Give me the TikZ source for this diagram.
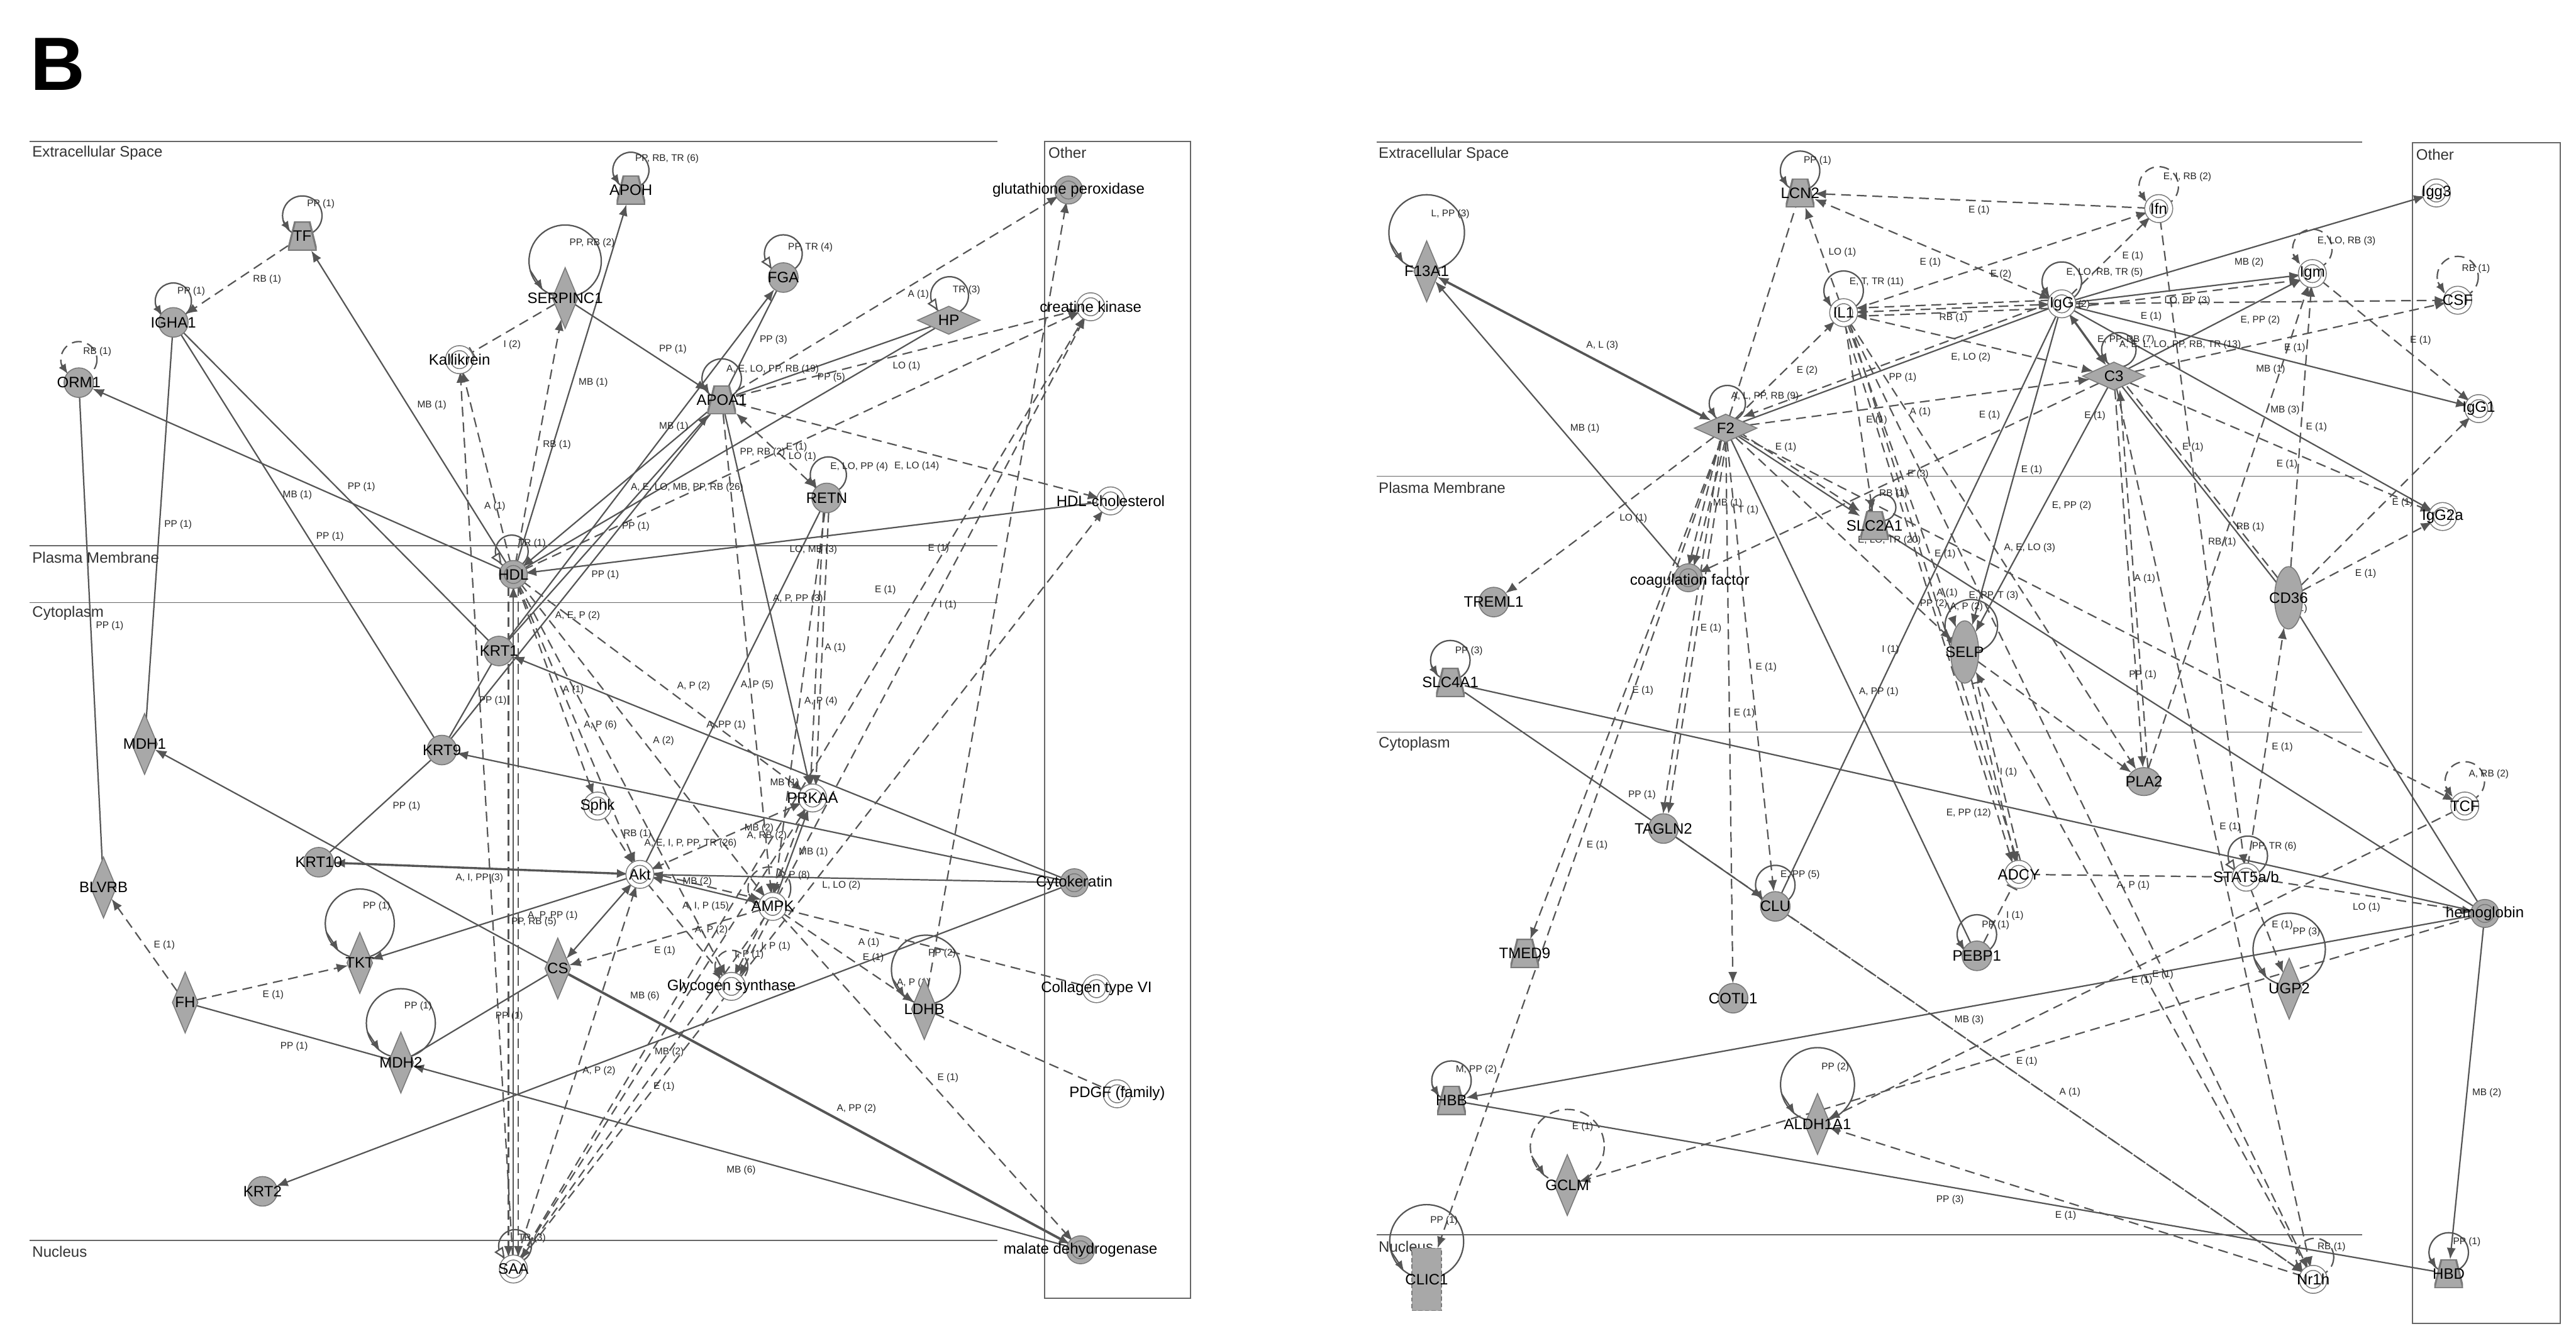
\documentclass[tikz,border=0pt]{standalone}
\usepackage{fontspec}
\setmainfont{Liberation Sans}
\usetikzlibrary{shapes.geometric,arrows.meta,calc}
\definecolor{ng}{HTML}{A8A8A8}
\definecolor{nb}{HTML}{7A7A7A}
\definecolor{ec}{HTML}{555555}
\pgfdeclarelayer{bg}
\pgfdeclarelayer{edges}
\pgfdeclarelayer{elabels}
\pgfsetlayers{bg,edges,elabels,main}
\newcounter{lc}
\tikzset{
  base/.style={draw=nb, line width=0.6pt, inner sep=0pt, outer sep=0pt},
  gc/.style={base, circle, fill=ng, minimum size=18pt},
  wc/.style={base, circle, fill=white, double=white, double distance=2.4pt, minimum size=14pt},
  gdc/.style={base, circle, fill=ng, double=ng, double distance=2.4pt, minimum size=14pt},
  tdia/.style={base, diamond, fill=ng, minimum width=15.5pt, minimum height=37pt},
  wdia/.style={base, diamond, fill=ng, minimum width=38pt, minimum height=17pt},
  trap/.style={inner sep=0pt, outer sep=0pt, rectangle, minimum width=17.5pt, minimum height=17.5pt,
    path picture={\fill[ng,draw=nb,line width=1.2pt]
      (path picture bounding box.south west) -- (path picture bounding box.south east) --
      ([xshift=-4.3pt]path picture bounding box.north east) -- ([xshift=4.3pt]path picture bounding box.north west) -- cycle;}},
  tell/.style={base, ellipse, fill=ng, minimum width=17pt, minimum height=38pt},
  rell/.style={base, ellipse, fill=ng, minimum width=20pt, minimum height=17pt},
  drect/.style={base, rectangle, fill=ng, dash pattern=on 2.5pt off 1.5pt, minimum width=18pt, minimum height=38pt},
  nl/.style={font=\fontsize{9.2}{9.2}\selectfont, inner sep=0pt, text=black},
  el/.style={font=\fontsize{5.9}{5.9}\selectfont, inner sep=0pt, text=black!85},
  comp/.style={font=\fontsize{9.2}{9.2}\selectfont, inner sep=0pt, anchor=west, text=black!80},
  e/.style={draw=ec, line width=0.85pt},
  d/.style={draw=ec, line width=0.85pt, dash pattern=on 6pt off 3.5pt},
  a/.style={-{Latex[length=7pt,width=5.5pt]}},
  ab/.style={{Latex[length=7pt,width=5.5pt]}-{Latex[length=7pt,width=5.5pt]}},
  ib/.style={-{Bar[width=7pt]}, shorten >=1.5pt},
  cl/.style={draw=black!60, line width=0.7pt},
}
\newcommand{\gene}[4]{\node[#1] (#2) at (#3) {}; \node[nl] (#2-t) at (#2.center) {#4};}
\newcommand{\el}[2]{\stepcounter{lc}\node[el] (el\arabic{lc}) at (#1) {#2};}
% loop: #1 circle style, #2 node, #3 dx, #4 dy, #5 radius
\newcommand{\sloop}[5][e]{%
  \draw[#1] ($(#2)+(#3,#4)$) circle (#5);
  \draw[e,-{Latex[length=6pt,width=5pt]}] ($(#2)+(#3,#4)+(-0.966*#5,0.259*#5)$) -- ($(#2)+(#3,#4)+(-0.616*#5,0.788*#5)$);}
\newcommand{\sloopw}[5][e]{%
  \draw[#1] ($(#2)+(#3,#4)$) circle (#5);
  \draw[e,-{Triangle[fill=white,length=7pt,width=6pt]}] ($(#2)+(#3,#4)+(-0.966*#5,0.259*#5)$) -- ($(#2)+(#3,#4)+(-0.616*#5,0.788*#5)$);}
\begin{document}
\begin{tikzpicture}[x=1pt,y=-1pt]
\begin{pgfonlayer}{bg}
\fill[white] (0,0) rectangle (1568,816.4);
% compartments left
\draw[cl] (18,86) -- (607,86);
\draw[cl] (18,332.3) -- (607,332.3);
\draw[cl] (18,366.9) -- (607,366.9);
\draw[cl] (18,755.3) -- (607,755.3);
\draw[cl] (636,86) rectangle (724.6,790.5);
% compartments right
\draw[cl] (838,86.4) -- (1438,86.4);
\draw[cl] (838,290) -- (1438,290);
\draw[cl] (838,445.8) -- (1438,445.8);
\draw[cl] (838,751.7) -- (1438,751.7);
\draw[cl] (1468.5,87) rectangle (1558.4,805.7);
\end{pgfonlayer}
\useasboundingbox (0,0) rectangle (1568,816.4);

\node[font=\fontsize{46}{46}\selectfont\bfseries, inner sep=0pt] (panelB) at (35,39) {B};
\node[comp] (c1) at (19.5,93) {Extracellular Space};
\node[comp] (c2) at (19.5,339.5) {Plasma Membrane};
\node[comp] (c3) at (19.5,373.5) {Cytoplasm};
\node[comp] (c4) at (19.5,762) {Nucleus};
\node[comp] (c5) at (638,93) {Other};
\node[comp] (c6) at (839,94) {Extracellular Space};
\node[comp] (c7) at (839,297) {Plasma Membrane};
\node[comp] (c8) at (839,453) {Cytoplasm};
\node[comp] (c9) at (839,759) {Nucleus};
\node[comp] (c10) at (1470.5,94) {Other};

% ---------------- left nodes
\gene{trap}{APOH}{384,115.7}{APOH}
\gene{trap}{TF}{184,143.8}{TF}
\gene{gc}{IGHA1}{105.5,196.3}{IGHA1}
\gene{gc}{ORM1}{48,233}{ORM1}
\gene{tdia}{SERPINC1}{344,181.5}{SERPINC1}
\gene{wc}{Kallikrein}{279.7,219}{Kallikrein}
\gene{gc}{FGA}{476.8,169}{FGA}
\gene{wdia}{HP}{577.5,195}{HP}
\gene{trap}{APOA1}{439.3,243.5}{APOA1}
\gene{gdc}{GPX}{650.4,115.7}{glutathione peroxidase}
\gene{wc}{CK}{663.9,186.8}{creatine kinase}
\gene{gc}{RETN}{503.2,303.2}{RETN}
\gene{wc}{HDLc}{676,305}{HDL-cholesterol}
\gene{gdc}{HDL}{312.5,349.8}{HDL}
\gene{gc}{KRT1}{303.7,396.4}{KRT1}
\gene{tdia}{MDH1}{88,453}{MDH1}
\gene{gc}{KRT9}{269,456.7}{KRT9}
\gene{wc}{Sphk}{363.7,490.8}{Sphk}
\gene{wc}{PRKAA}{494.6,485.9}{PRKAA}
\gene{tdia}{BLVRB}{63,540.4}{BLVRB}
\gene{gc}{KRT10}{194,525}{KRT10}
\gene{wc}{Akt}{389.5,532.4}{Akt}
\gene{wc}{AMPK}{470.3,551.9}{AMPK}
\gene{gdc}{Cytok}{653.9,537.5}{Cytokeratin}
\gene{tdia}{TKT}{219,586.3}{TKT}
\gene{tdia}{CS}{339.5,589.7}{CS}
\gene{tdia}{FH}{112.7,610.4}{FH}
\gene{wc}{GS}{445.2,600.6}{Glycogen synthase}
\gene{tdia}{LDHB}{562.6,614.4}{LDHB}
\gene{wc}{Col6}{667.4,602}{Collagen type VI}
\gene{tdia}{MDH2}{244,647}{MDH2}
\gene{wc}{PDGF}{680,666}{PDGF (family)}
\gene{gc}{KRT2}{159.8,725.4}{KRT2}
\gene{wc}{SAA}{312.5,772.7}{SAA}
\gene{gdc}{MDHase}{657.7,761}{malate dehydrogenase}

% ---------------- right nodes
\gene{tdia}{F13A1}{868.4,165.2}{F13A1}
\gene{trap}{LCN2}{1095.7,117.5}{LCN2}
\gene{wc}{Ifn}{1314,127}{Ifn}
\gene{wc}{Igg3}{1483,117.5}{Igg3}
\gene{wc}{IL1}{1122.2,190.4}{IL1}
\gene{wc}{IgG}{1255,185}{IgG}
\gene{wc}{Igm}{1407.5,166.6}{Igm}
\gene{wc}{CSF}{1496,182.8}{CSF}
\gene{wdia}{C3}{1286.7,229}{C3}
\gene{wdia}{F2}{1050.4,260.7}{F2}
\gene{wc}{IgGa}{1508.8,248.8}{IgG1}
\gene{wc}{IgGb}{1486.8,314.5}{IgG2a}
\gene{trap}{SLC2A1}{1141,320}{SLC2A1}
\node[gdc] (coag) at (1027.7,351.8) {}; \node[nl] (coag-t) at (1028.5,354) {coagulation factor};
\gene{gc}{TREML1}{909.2,366.6}{TREML1}
\gene{tell}{CD36}{1393,364}{CD36}
\gene{tell}{SELP}{1195.9,397}{SELP}
\gene{trap}{SLC4A1}{882.8,415.6}{SLC4A1}
\gene{rell}{PLA2}{1305,475.9}{PLA2}
\gene{wc}{TCF}{1500.3,490.8}{TCF}
\gene{gc}{TAGLN2}{1012.5,504.5}{TAGLN2}
\gene{wc}{ADCY}{1228.8,532.4}{ADCY}
\gene{wc}{STAT}{1367.2,534.1}{STAT5a/b}
\gene{gc}{CLU}{1080.6,551.9}{CLU}
\gene{gdc}{hemo}{1512.5,556.2}{hemoglobin}
\gene{gc}{PEBP1}{1203.3,582}{PEBP1}
\gene{trap}{TMED9}{928.1,580.6}{TMED9}
\gene{tdia}{UGP2}{1393.4,602}{UGP2}
\gene{gc}{COTL1}{1054.9,607.8}{COTL1}
\gene{trap}{HBB}{883.5,670}{HBB}
\gene{tdia}{ALDH1A1}{1106.3,684.4}{ALDH1A1}
\gene{tdia}{GCLM}{954,721.6}{GCLM}
\gene{drect}{CLIC1}{868.4,779}{CLIC1}
\gene{wc}{Nr1h}{1408,779}{Nr1h}
\gene{trap}{HBD}{1490.5,775.6}{HBD}

\begin{pgfonlayer}{edges}
% ---------- left loops
\sloop{APOH}{0}{-12}{11}
\sloop{TF}{0}{-12.5}{12}
\sloop{IGHA1}{0}{-13}{11}
\sloop[d]{ORM1}{0}{-14}{11}
\sloop{SERPINC1}{0}{-22.5}{22}
\sloopw{FGA}{0}{-14.5}{11.5}
\sloopw{HP}{0.5}{-15}{11.5}
\sloop{APOA1}{0}{-13}{12}
\sloop{RETN}{1}{-14}{11}
\sloopw{HDL}{-1}{-14}{10}
\sloop{TKT}{0}{-24}{21}
\sloop{MDH2}{0}{-24}{21}
\sloop{LDHB}{1}{-24}{21}
\sloopw{SAA}{1}{-14}{10}
\sloop[d]{AMPK}{-2}{-11}{13}
\sloop[d]{GS}{0}{-12}{10}
% ---------- right loops
\sloop{F13A1}{0}{-23.6}{23}
\sloop{LCN2}{0}{-13.5}{12}
\sloop[d]{Ifn}{0}{-13.5}{12}
\sloop{IL1}{0}{-13.4}{12}
\sloop{IgG}{0}{-13.5}{12}
\sloop[d]{Igm}{0}{-15}{12}
\sloop[d]{CSF}{0}{-14.2}{12.5}
\sloop{C3}{3}{-16}{10.5}
\sloop{F2}{1}{-15}{11}
\sloop{SLC2A1}{5}{-11}{8}
\sloop{SELP}{4}{-16}{16}
\sloop{SLC4A1}{0}{-13.6}{12}
\sloop[d]{TCF}{0}{-15}{12}
\sloopw{STAT}{1}{-13}{12}
\sloop{CLU}{0}{-13}{12}
\sloop{PEBP1}{0}{-13}{12}
\sloop{UGP2}{0}{-24}{22}
\sloop{HBB}{0}{-12}{12}
\sloop{ALDH1A1}{0}{-24}{22.5}
\sloop[d]{GCLM}{0}{-23.6}{22.5}
\sloop{CLIC1}{0}{-23}{22.5}
\sloop[d]{Nr1h}{1}{-13.5}{11.5}
\sloop{HBD}{0}{-13}{12}

% ---------- left solid
\draw[e,a] (HDL) -- (TF);
\draw[e,a] (HDL) -- (APOH);
\draw[e,a] (HDL) -- (ORM1);
\draw[e] (IGHA1) -- (KRT1);
\draw[e] (IGHA1) -- (KRT9);
\draw[e] (IGHA1) -- (MDH1);
\draw[e] (ORM1) -- (BLVRB);
\draw[e,a] (SERPINC1) -- (APOA1);
\draw[e,a] (KRT1) -- (FGA);
\draw[e] (APOA1) -- (FGA);
\draw[e] (HP) -- (APOA1);
\draw[e] (HP) -- (HDL);
\draw[e,a] (APOA1) -- (HDL);
\draw[e,a] (KRT1) -- (APOA1);
\draw[e] (KRT9) -- (APOA1);
\draw[e,a] (HDLc) -- (HDL);
\draw[e] (RETN) -- (Akt);
\draw[e,a] (APOA1) -- (PRKAA);
\draw[e,ab,line width=1.3pt] (KRT10) -- (Akt);
\draw[e,a] (Akt) -- (TKT);
\draw[e,a] (Cytok) -- (KRT1);
\draw[e,a] (Cytok) -- (KRT9);
\draw[e] (Cytok) -- (Akt);
\draw[e,a] (Cytok) -- (KRT2);
\draw[e,a] (CS) -- (MDH1);
\draw[e,a,line width=1.5pt] (CS) -- (MDHase);
\draw[e,a] (MDHase) -- (MDH2);
\draw[e] (FH) -- (MDH2);
\draw[e] (MDH2) -- (CS);
\draw[e,ab] (Akt) -- (CS);
\draw[e,a] (AMPK) -- (Akt);
\draw[e,a] (SAA) -- (HDL);
\draw[e] (KRT9) -- (KRT10);
\draw[e] (KRT9) -- (KRT1);
\draw[e,a] (AMPK) -- (PRKAA);
% ---------- left dashed
\draw[d,a] (TF) -- (IGHA1);
\draw[d,ib] (SERPINC1) -- (Kallikrein);
\draw[d,a] (HDL) -- (SERPINC1);
\draw[d,a] (HDL) -- (Kallikrein);
\draw[d,a] (SAA) -- (Kallikrein);
\draw[d,a] (APOA1) -- (GPX);
\draw[d,a] (APOA1) -- (CK);
\draw[d,a] (APOA1) -- (HDLc);
\draw[d,ab] (APOA1) -- (RETN);
\draw[d,a] (HDL) -- (CK);
\draw[d,a,transform canvas={xshift=-1.6pt}] (RETN) -- (PRKAA);
\draw[d,a,transform canvas={xshift=1.6pt}] (RETN) -- (PRKAA);
\draw[d,a] (RETN) -- (AMPK);
\draw[d,a] (HDL) -- (Sphk);
\draw[d,a] (HDL) -- (Akt);
\draw[d,a] (HDL) -- (AMPK);
\draw[d,a] (HDL) -- (GS);
\draw[d,a] (HDL) -- (PRKAA);
\draw[d,a] (APOA1) -- (AMPK);
\draw[d,a] (Sphk) -- (Akt);
\draw[d,ab] (PRKAA) -- (Akt);
\draw[d,a] (Akt) -- (GS);
\draw[d,ab,transform canvas={yshift=2.5pt}] (Akt) -- (AMPK);
\draw[d,a] (AMPK) -- (CS);
\draw[d,a,transform canvas={xshift=-1.6pt}] (AMPK) -- (GS);
\draw[d,a,transform canvas={xshift=1.6pt}] (AMPK) -- (GS);
\draw[d,a] (AMPK) -- (LDHB);
\draw[d] (AMPK) -- (Col6);
\draw[d,a] (AMPK) -- (MDHase);
\draw[d] (LDHB) -- (PDGF);
\draw[d,a] (FH) -- (BLVRB);
\draw[d,a] (FH) -- (TKT);
\draw[d,a,transform canvas={xshift=-2.5pt}] (PRKAA) -- (AMPK);
\draw[d,a] (SAA) -- (HDLc);
\draw[d,a] (SAA) -- (CK);
\draw[d,a] (SAA) -- (Akt);
\draw[d,a] (SAA) -- (PRKAA);
\draw[d,a] (LDHB) -- (GPX);
\draw[d,a] (AMPK) -- (CK);
\draw[d,a,transform canvas={xshift=-3pt}] (HDL) -- (SAA);
\draw[d,a,transform canvas={xshift=3pt}] (HDL) -- (SAA);
\draw[d,a] (AMPK) -- (SAA);

% ---------- right solid
\draw[e,ab,line width=1.4pt] (F2) -- (F13A1);
\draw[e,a] (coag) -- (F13A1);
\draw[e] (F2) -- (IgG);
\draw[e,a] (F2) -- (SLC2A1);
\draw[e] (SLC2A1) -- (hemo);
\draw[e] (SLC4A1) -- (TAGLN2);
\draw[e,a] (TAGLN2) -- (CLU);
\draw[e] (SLC4A1) -- (hemo);
\draw[e] (CLU) -- (IgG);
\draw[e] (F2) -- (PEBP1);
\draw[e,ab,line width=1.3pt] (IgG) -- (C3);
\draw[e] (C3) -- (CD36);
\draw[e,a] (C3) -- (Igm);
\draw[e,a] (IgG) -- (Igg3);
\draw[e,a] (IgG) -- (Igm);
\draw[e,a] (IgG) -- (IgGa);
\draw[e,a] (IgG) -- (IgGb);
\draw[e,a] (C3) -- (SELP);
\draw[e,a] (IgG) -- (SELP);
\draw[e] (CD36) -- (hemo);
\draw[e,a] (hemo) -- (HBD);
\draw[e,a] (hemo) -- (HBB);
\draw[e] (HBB) -- (HBD);
% ---------- right dashed
\draw[d,a] (IL1) -- (LCN2);
\draw[d] (F2) -- (LCN2);
\draw[d,a] (Ifn) -- (LCN2);
\draw[d,ab] (IgG) -- (LCN2);
\draw[d,a] (IL1) -- (Ifn);
\draw[d,a] (IgG) -- (Ifn);
\draw[d,ab] (IgG) -- (IL1);
\draw[d,a,transform canvas={yshift=2.5pt}] (IgG) -- (IL1);
\draw[d,a,transform canvas={yshift=-2.5pt}] (IgG) -- (IL1);
\draw[d,a] (IL1) -- (C3);
\draw[d,a] (F2) -- (IL1);
\draw[d,a] (IL1) -- (SLC2A1);
\draw[d,a] (IL1) -- (PLA2);
\draw[d,a,transform canvas={xshift=-1.6pt}] (IL1) -- (ADCY);
\draw[d,a,transform canvas={xshift=1.6pt}] (IL1) -- (ADCY);
\draw[d,a] (IL1) -- (SELP);
\draw[d,a] (F2) -- (C3);
\draw[d,a] (F2) -- (TREML1);
\draw[d,a,transform canvas={xshift=-1.6pt}] (F2) -- (coag);
\draw[d,a,transform canvas={xshift=1.6pt}] (F2) -- (coag);
\draw[d,a,transform canvas={xshift=-1.6pt}] (F2) -- (TAGLN2);
\draw[d,a,transform canvas={xshift=1.6pt}] (F2) -- (TAGLN2);
\draw[d,a] (F2) -- (CLU);
\draw[d,a] (F2) -- (COTL1);
\draw[d,a] (F2) -- (TMED9);
\draw[d,a] (F2) -- (CLIC1);
\draw[d,a,transform canvas={yshift=3pt}] (F2) -- (SLC2A1);
\draw[d,a] (F2) -- (SELP);
\draw[d,a] (F2) -- (TCF);
\draw[d,a] (C3) -- (coag);
\draw[d,a,transform canvas={yshift=3pt}] (IgG) -- (F2);
\draw[d,a] (IgG) -- (CSF);
\draw[d,a] (C3) -- (CSF);
\draw[d,a,transform canvas={yshift=-3pt}] (IgG) -- (Igm);
\draw[d,a] (Igm) -- (IgGa);
\draw[d,a] (CD36) -- (IgGa);
\draw[d,a] (CD36) -- (IgGb);
\draw[d,a] (C3) -- (IgGb);
\draw[d,a] (CD36) -- (Igm);
\draw[d,a] (PLA2) -- (Igm);
\draw[d,a] (Ifn) -- (STAT);
\draw[d,a] (STAT) -- (CD36);
\draw[d,transform canvas={xshift=3pt}] (C3) -- (CD36);
\draw[d,a] (C3) -- (PLA2);
\draw[d,a,transform canvas={xshift=3pt}] (PLA2) -- (C3);
\draw[d,a] (C3) -- (Nr1h);
\draw[d,a] (SELP) -- (PLA2);
\draw[d,a] (SELP) -- (ADCY);
\draw[d,ib,transform canvas={xshift=3pt}] (ADCY) -- (SELP);
\draw[d,ib] (PEBP1) -- (ADCY);
\draw[d] (ADCY) -- (STAT);
\draw[d,a] (STAT) -- (hemo);
\draw[d,a] (STAT) -- (UGP2);
\draw[d,a] (TCF) -- (ALDH1A1);
\draw[d,a] (hemo) -- (GCLM);
\draw[d,a] (CLU) -- (Nr1h);
\draw[d,a] (Nr1h) -- (ALDH1A1);
\draw[d,a] (TAGLN2) -- (Nr1h);
\draw[d,a] (Nr1h) -- (SELP);
\draw[d,a] (IL1) -- (Nr1h);
\end{pgfonlayer}

\begin{pgfonlayer}{elabels}
% ---- left loop labels
\el{406,96.7}{PP, RB, TR (6)}
\el{195.3,124.4}{PP (1)}
\el{116.4,177.5}{PP (1)}
\el{59.2,214.1}{RB (1)}
\el{360.4,147.8}{PP, RB (2)}
\el{493.3,150.8}{PP, TR (4)}
\el{559,179.5}{A (1)}
\el{588.3,176.5}{TR (3)}
\el{470.3,225}{A, E, LO, PP, RB (19)}
\el{523,284.4}{E, LO, PP (4)}
\el{323.8,331}{TR (1)}
\el{229.3,551.9}{PP (1)}
\el{254.5,612.7}{PP (1)}
\el{573.4,580.5}{PP (2)}
\el{323.8,754}{TR (3)}
% ---- left edge labels
\el{162.6,170}{RB (1)}
\el{311.7,209.8}{I (2)}
\el{361.1,233}{MB (1)}
\el{262.9,246.8}{MB (1)}
\el{339,271}{RB (1)}
\el{220,296.3}{PP (1)}
\el{181,301.3}{MB (1)}
\el{108.4,319.5}{PP (1)}
\el{200.9,326.6}{PP (1)}
\el{301.2,308.2}{A (1)}
\el{387,320.5}{PP (1)}
\el{368.4,350.2}{PP (1)}
\el{351.6,375}{A, E, P (2)}
\el{409.6,212.7}{PP (1)}
\el{470.8,206.8}{PP (3)}
\el{551.8,223}{LO (1)}
\el{506,230}{PP (5)}
\el{410.1,259.7}{MB (1)}
\el{464.1,275.5}{PP, RB (2)}
\el{484.9,272.5}{E (1)}
\el{488.4,278}{LO (1)}
\el{558,284}{E, LO (14)}
\el{418.2,296.9}{A, E, LO, MB, PP, RB (26)}
\el{495.1,334.9}{LO, MB (3)}
\el{571.3,334}{E (1)}
\el{538.9,359.3}{E (1)}
\el{485.7,364.6}{A, P, PP (3)}
\el{577,368.6}{I (1)}
\el{66.8,381.2}{PP (1)}
\el{349,420}{A (1)}
\el{300,426.5}{PP (1)}
\el{365.4,441.5}{A, P (6)}
\el{508.4,394.4}{A (1)}
\el{499.7,427.1}{A, P (4)}
\el{422.2,418}{A, P (2)}
\el{460.9,417.1}{A, P (5)}
\el{442,441.5}{A, PP (1)}
\el{403.9,451}{A (2)}
\el{247.5,490.8}{PP (1)}
\el{477.6,476.7}{MB (1)}
\el{462,504.5}{MB (2)}
\el{466.8,508.9}{A, RB (2)}
\el{388,507.8}{RB (1)}
\el{420.3,513.6}{A, E, I, P, PP, TR (26)}
\el{495.1,518.9}{MB (1)}
\el{291.8,534.7}{A, I, PP (3)}
\el{424.4,537}{MB (2)}
\el{483,533.2}{A, P (8)}
\el{512.1,539}{L, LO (2)}
\el{429.5,551.9}{A, I, P (15)}
\el{325,561.3}{PP, RB (5)}
\el{336.4,557.5}{A, P, PP (1)}
\el{433,566.2}{A, P (2)}
\el{528.9,574}{A (1)}
\el{531.6,583.4}{E (1)}
\el{100,575.7}{E (1)}
\el{404.7,579.1}{E (1)}
\el{472.2,576.2}{I, P (1)}
\el{456,581.4}{I, P (1)}
\el{555.9,598.6}{A, P (1)}
\el{166.3,605.8}{E (1)}
\el{392.5,606.4}{MB (6)}
\el{310,618.7}{PP (1)}
\el{179,637.3}{PP (1)}
\el{407.4,640.8}{MB (2)}
\el{364.6,652.2}{A, P (2)}
\el{577,656.5}{E (1)}
\el{404.2,661.7}{E (1)}
\el{521.3,675.2}{A, PP (2)}
\el{451.1,712.5}{MB (6)}
% ---- right loop labels
\el{882.8,130.4}{L, PP (3)}
\el{1106.3,97.9}{PP (1)}
\el{1331.4,107.6}{E, I, RB (2)}
\el{1142.3,171.6}{E, T, TR (11)}
\el{1281,166}{E, LO, RB, TR (5)}
\el{1428.3,146.8}{E, LO, RB (3)}
\el{1507.1,163.6}{RB (1)}
\el{1294,206.8}{E, PP, RB (7)}
\el{1074.3,241.3}{A, L, PP, RB (9)}
\el{1152.4,300.7}{RB (1)}
\el{1213.5,362.6}{E, PP, T (3)}
\el{894.1,396.4}{PP (3)}
\el{1514.9,471.6}{A, RB (2)}
\el{1384.3,515.5}{PP, TR (6)}
\el{1095.7,532.7}{E, PP (5)}
\el{1214.7,563.3}{PP (1)}
\el{1403.9,567.6}{PP (3)}
\el{898.6,651.4}{M, PP (2)}
\el{1117.1,650}{PP (2)}
\el{963.4,686.1}{E (1)}
\el{879,743.4}{PP (1)}
\el{1419.2,759.2}{RB (1)}
\el{1501.5,756.3}{PP (1)}
% ---- right edge labels
\el{1204.6,128}{E (1)}
\el{1175,160}{E (1)}
\el{1121.4,153.7}{LO (1)}
\el{1189,193.7}{RB (1)}
\el{975.3,210.2}{A, L (3)}
\el{1199.6,217.5}{E, LO (2)}
\el{1100,225.6}{E (2)}
\el{1158.2,230}{PP (1)}
\el{1168.8,251}{A (1)}
\el{1142.3,256}{E (1)}
\el{964.7,261}{MB (1)}
\el{1087,272.2}{E (1)}
\el{1167.5,289}{E (3)}
\el{1051.6,306.6}{MB (1)}
\el{1064.2,310.6}{T (1)}
\el{994.2,315.5}{LO (1)}
\el{1150,329}{E, LO, TR (20)}
\el{1184,337.3}{E (1)}
\el{1185.2,361}{A (1)}
\el{1177,367.6}{PP (2)}
\el{1197,369.6}{A, P (2)}
\el{1298.2,156.1}{E (1)}
\el{1369,159.7}{MB (2)}
\el{1217.9,167}{E (2)}
\el{1268.5,185.5}{(2)}
\el{1331.4,183}{LO, PP (3)}
\el{1309.4,192.7}{E (1)}
\el{1375.8,194.9}{E, PP (2)}
\el{1327,209.8}{A, E, L, LO, PP, RB, TR (13)}
\el{1473.4,207.2}{E (1)}
\el{1396.8,211.8}{E (1)}
\el{1382.1,225}{MB (1)}
\el{1211,252.7}{E (1)}
\el{1275.2,253.1}{E (1)}
\el{1390.9,249.8}{MB (3)}
\el{1410,260}{E (1)}
\el{1334.8,272.5}{E (1)}
\el{1236.7,286}{E (1)}
\el{1392.1,282.8}{E (1)}
\el{1261,307.8}{E, PP (2)}
\el{1462.4,306.2}{E (1)}
\el{1369.7,321}{RB (1)}
\el{1352.6,330}{RB (1)}
\el{1235.4,333.5}{A, E, LO (3)}
\el{1305.5,352.3}{A (1)}
\el{1440,349.2}{E (1)}
\el{1398,370.6}{E (1)}
\el{1041.5,382.7}{E (1)}
\el{1150.7,395.6}{I (1)}
\el{1075,406.2}{E (1)}
\el{1304.3,410.8}{PP (1)}
\el{1000,420.5}{E (1)}
\el{1143.6,421.4}{A, PP (1)}
\el{1061.7,434.3}{E (1)}
\el{1389.2,455}{E (1)}
\el{1222.5,470.1}{I (1)}
\el{999.5,483.9}{PP (1)}
\el{1198.3,495.3}{E, PP (12)}
\el{1357.5,503.7}{E (1)}
\el{972.2,514.6}{E (1)}
\el{1298.4,539}{A, P (1)}
\el{1440.5,552.7}{LO (1)}
\el{1226.4,557.6}{I (1)}
\el{1389.2,563.3}{E (1)}
\el{1303.8,596.9}{E (1)}
\el{1316.5,593.5}{E (1)}
\el{1198.6,621}{MB (3)}
\el{1233.7,646.5}{E (1)}
\el{1259.9,665.2}{A (1)}
\el{1513.7,665.7}{MB (2)}
\el{1187,730.5}{PP (3)}
\el{1257.4,740.3}{E (1)}
\end{pgfonlayer}
\end{tikzpicture}
\end{document}
